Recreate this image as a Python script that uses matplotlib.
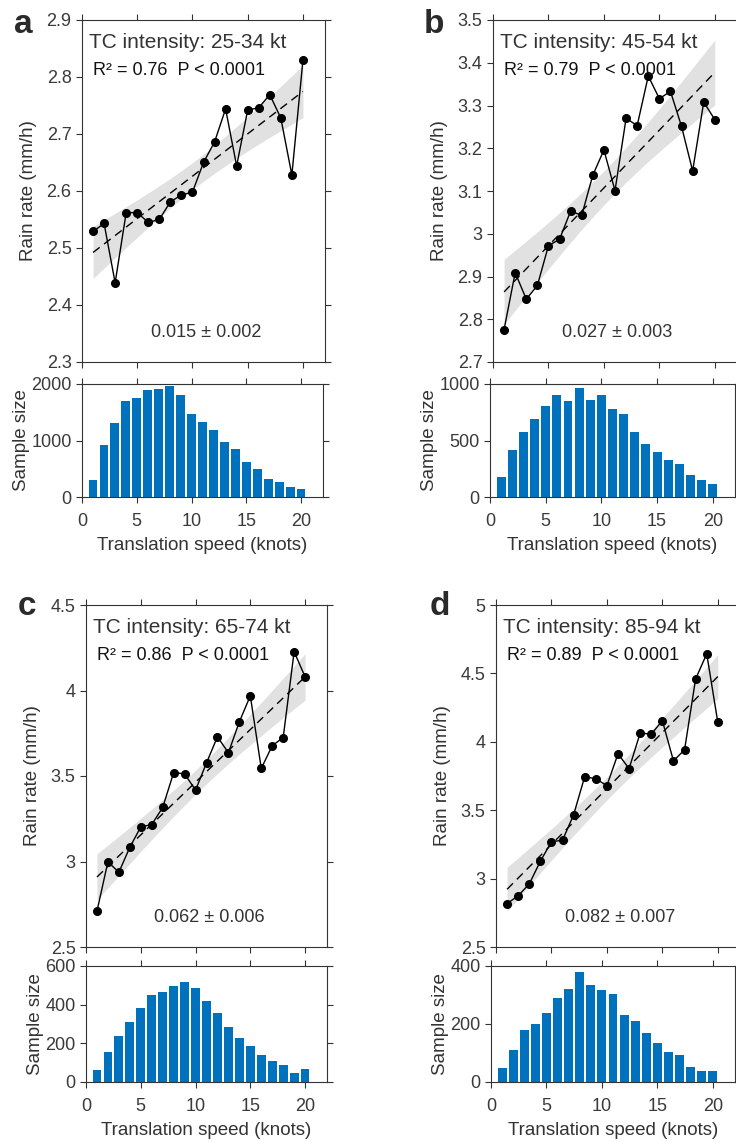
import numpy as np
import matplotlib
matplotlib.use("Agg")
import matplotlib.pyplot as plt

plt.rcParams['font.family'] = ['Liberation Sans', 'DejaVu Sans']

# translation speed bins (knots)
speed = np.arange(1, 21)

# mean rain rate per speed bin (mm/h)
rain_a = [2.529, 2.543, 2.439, 2.562, 2.562, 2.545, 2.550, 2.581, 2.593, 2.598,
          2.650, 2.686, 2.744, 2.644, 2.742, 2.746, 2.769, 2.728, 2.628, 2.829]
rain_b = [2.776, 2.909, 2.847, 2.879, 2.972, 2.987, 3.053, 3.043, 3.137, 3.196,
          3.101, 3.270, 3.253, 3.369, 3.316, 3.333, 3.251, 3.147, 3.308, 3.267]
rain_c = [2.709, 2.998, 2.937, 3.083, 3.202, 3.216, 3.316, 3.519, 3.513, 3.417,
          3.577, 3.729, 3.636, 3.817, 3.969, 3.544, 3.677, 3.725, 4.227, 4.080]
rain_d = [2.817, 2.875, 2.961, 3.127, 3.269, 3.281, 3.467, 3.746, 3.729, 3.680,
          3.912, 3.804, 4.064, 4.056, 4.154, 3.861, 3.941, 4.460, 4.643, 4.142]

# sample size per speed bin
count_a = [306, 912, 1318, 1706, 1759, 1894, 1912, 1965, 1806, 1465,
           1335, 1188, 965, 853, 624, 494, 318, 259, 176, 147]
count_b = [176, 418, 579, 688, 809, 903, 850, 962, 862, 903,
           779, 738, 579, 468, 397, 329, 294, 197, 147, 112]
count_c = [61, 156, 237, 311, 384, 452, 467, 497, 519, 488,
           420, 358, 282, 230, 185, 142, 107, 87, 47, 67]
count_d = [50, 110, 179, 201, 238, 290, 321, 380, 333, 318,
           304, 231, 209, 168, 134, 104, 92, 52, 38, 38]

letters = ['a', 'b', 'c', 'd']
titles = ['TC intensity: 25-34 kt', 'TC intensity: 45-54 kt',
          'TC intensity: 65-74 kt', 'TC intensity: 85-94 kt']
r2_text = ['R\u00b2 = 0.76  P < 0.0001', 'R\u00b2 = 0.79  P < 0.0001',
           'R\u00b2 = 0.86  P < 0.0001', 'R\u00b2 = 0.89  P < 0.0001']
slope_text = ['0.015 \u00b1 0.002', '0.027 \u00b1 0.003',
              '0.062 \u00b1 0.006', '0.082 \u00b1 0.007']
rain_ylim = [(2.3, 2.9), (2.7, 3.5), (2.5, 4.5), (2.5, 5.0)]
rain_yticks = [[2.3, 2.4, 2.5, 2.6, 2.7, 2.8, 2.9],
               [2.7, 2.8, 2.9, 3.0, 3.1, 3.2, 3.3, 3.4, 3.5],
               [2.5, 3.0, 3.5, 4.0, 4.5],
               [2.5, 3.0, 3.5, 4.0, 4.5, 5.0]]
count_ylim = [(0, 2000), (0, 1000), (0, 600), (0, 400)]
count_yticks = [[0, 1000, 2000], [0, 500, 1000], [0, 200, 400, 600], [0, 200, 400]]
rains = [rain_a, rain_b, rain_c, rain_d]
counts = [count_a, count_b, count_c, count_d]

W, H = 736, 1142
DARK = '#333333'
BLUE = '#0072BD'

# pixel boxes (left, right, top, bottom)
top_boxes = [(82, 325, 20, 362), (493, 737, 20, 362),
             (86, 327, 605, 947), (496, 740, 605, 947)]
hist_boxes = [(82, 323, 384, 497), (490, 735, 384, 497),
              (86, 327, 966, 1082), (491, 735, 966, 1082)]
letter_pos = [(14, 33), (424, 33), (18, 615), (430, 615)]


def rect(l, r, t, b):
    return [l / W, 1 - b / H, (r - l) / W, (b - t) / H]


def style_axes(ax):
    for s in ax.spines.values():
        s.set_color(DARK)
        s.set_linewidth(0.8)
    ax.tick_params(direction='out', length=4, width=0.8, colors=DARK,
                   labelsize=13, top=True, right=True, labelcolor='#3a3a3a')
    ax.tick_params(axis='x', pad=7.5)


fig = plt.figure(figsize=(W / 100, H / 100), dpi=100)

for i in range(4):
    x = speed.astype(float)
    y = np.array(rains[i])

    # linear fit and 95% confidence band
    slope, icpt = np.polyfit(x, y, 1)
    fit = icpt + slope * x
    n = len(x)
    s = np.sqrt(np.sum((y - fit) ** 2) / (n - 2))
    se = s * np.sqrt(1 / n + (x - x.mean()) ** 2 / np.sum((x - x.mean()) ** 2))
    t95 = 2.101

    ax = fig.add_axes(rect(*top_boxes[i]))
    ax.fill_between(x, fit - t95 * se, fit + t95 * se, color='#e1e1e1', lw=0)
    ax.plot(x, fit, color='black', lw=1, ls=(0, (6, 4)))
    ax.plot(x, y, color='black', lw=1, marker='o', ms=5.5)
    ax.set_xlim(0, 22)
    ax.set_ylim(*rain_ylim[i])
    ax.set_xticks([0, 5, 10, 15, 20])
    ax.set_xticklabels([])
    ax.set_yticks(rain_yticks[i])
    ax.set_yticklabels(['%g' % v for v in rain_yticks[i]])
    style_axes(ax)
    ax.set_ylabel('Rain rate (mm/h)', fontsize=13.5, color=DARK, labelpad=7)
    ax.text(0.03, 0.935, titles[i], transform=ax.transAxes, fontsize=15,
            color=DARK, ha='left', va='center')
    ax.text(0.045, 0.853, r2_text[i], transform=ax.transAxes, fontsize=13,
            color='#111111', ha='left', va='center')
    ax.text(0.51, 0.085, slope_text[i], transform=ax.transAxes, fontsize=13,
            color=DARK, ha='center', va='center')

    hx = fig.add_axes(rect(*hist_boxes[i]))
    hx.bar(speed, counts[i], width=0.8, color=BLUE, edgecolor='none')
    hx.set_xlim(0, 22)
    hx.set_ylim(*count_ylim[i])
    hx.set_xticks([0, 5, 10, 15, 20])
    hx.set_yticks(count_yticks[i])
    style_axes(hx)
    hx.set_ylabel('Sample size', fontsize=13.5, color=DARK, labelpad=1)
    hx.set_xlabel('Translation speed (knots)', fontsize=13.5, color=DARK, labelpad=5)

    lx, ly = letter_pos[i]
    fig.text(lx / W, 1 - ly / H, letters[i], fontsize=24, fontweight='bold',
             color='#2a2a2a', ha='left', va='baseline')

fig.savefig('out.png', dpi=100)
